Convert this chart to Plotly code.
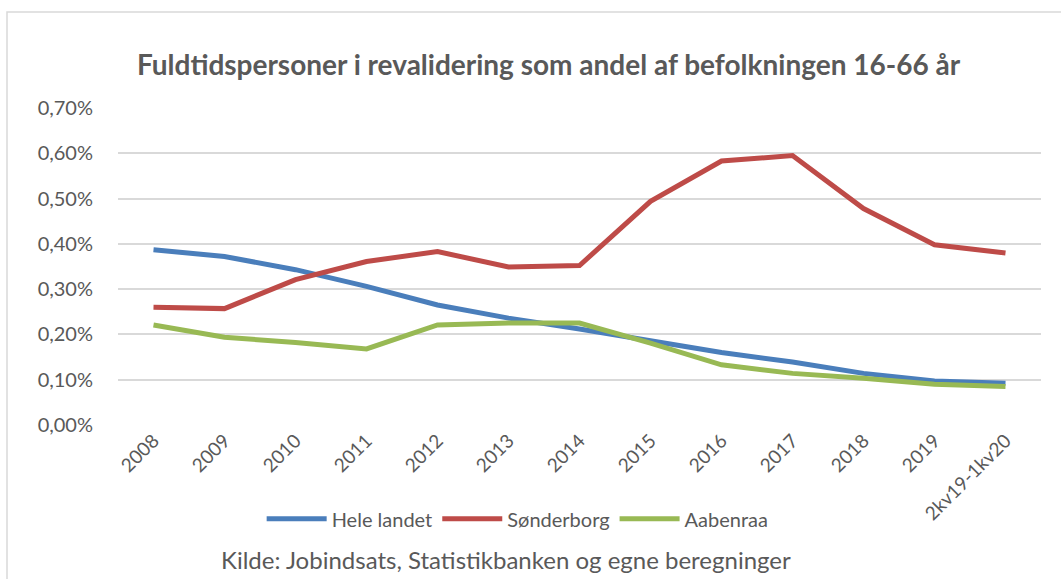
import plotly.graph_objects as go

categories = ["2008", "2009", "2010", "2011", "2012", "2013", "2014", "2015",
              "2016", "2017", "2018", "2019", "2kv19-1kv20"]
hele_landet = [0.387, 0.372, 0.343, 0.306, 0.265, 0.236, 0.212, 0.186,
               0.160, 0.139, 0.114, 0.097, 0.092]
sonderborg = [0.260, 0.257, 0.321, 0.361, 0.383, 0.349, 0.352, 0.494,
              0.583, 0.595, 0.478, 0.398, 0.380]
aabenraa = [0.221, 0.194, 0.182, 0.168, 0.221, 0.225, 0.225, 0.181,
            0.133, 0.114, 0.103, 0.090, 0.085]
y_ticks = [0.0, 0.1, 0.2, 0.3, 0.4, 0.5, 0.6, 0.7]

series = [("Hele landet", hele_landet, "#4A7EBB"),
          ("Sønderborg", sonderborg, "#BE4B48"),
          ("Aabenraa", aabenraa, "#98B954")]

FONT = "Lato, 'Open Sans', sans-serif"
GREY = "#595959"

fig = go.Figure()
for name, vals, col in series:
    fig.add_trace(go.Scatter(
        x=categories, y=[v / 100 for v in vals], name=name, mode="lines",
        line=dict(color=col, width=5)))

fig.update_layout(
    width=1061, height=579,
    margin=dict(l=118, r=20, t=108, b=154),
    paper_bgcolor="white", plot_bgcolor="white",
    separators=",.",
    font=dict(family=FONT, color=GREY, size=19),
    title=dict(text="<b>Fuldtidspersoner i revalidering som andel af befolkningen 16-66 år</b>",
               x=0.517, xanchor="center", y=0.888, yanchor="middle",
               font=dict(size=28, color=GREY, family=FONT)),
    showlegend=True,
    legend=dict(orientation="h", x=0.433, xanchor="center", y=-0.296, yanchor="middle",
                font=dict(size=20, color=GREY, family=FONT), itemwidth=60,
                traceorder="normal"),
    shapes=[dict(type="rect", xref="paper", yref="paper",
                 x0=-111 / 923, x1=1.1, y0=-0.6, y1=(425 - 12) / 317,
                 line=dict(color="#D9D9D9", width=1.5), layer="below")],
    annotations=[dict(text="Kilde: Jobindsats, Statistikbanken og egne beregninger",
                      xref="paper", yref="paper", x=0.42, y=-0.425,
                      xanchor="center", yanchor="middle", showarrow=False,
                      font=dict(size=24, color=GREY, family=FONT))],
)
fig.update_xaxes(type="category", tickangle=-45, showgrid=False, showline=False,
                 ticks="", tickfont=dict(size=19, color=GREY), range=[-0.5, 12.5])
fig.update_yaxes(range=[0, 0.007], tickvals=[t / 100 for t in y_ticks],
                 tickformat=".2%", showgrid=True, gridcolor="#D9D9D9", gridwidth=1.5,
                 zeroline=False, showline=False, ticks="", ticklabelstandoff=24,
                 tickfont=dict(size=20, color=GREY))

fig.write_html("out.html", config={"displayModeBar": False},
               post_script="document.body.style.margin='0';")
